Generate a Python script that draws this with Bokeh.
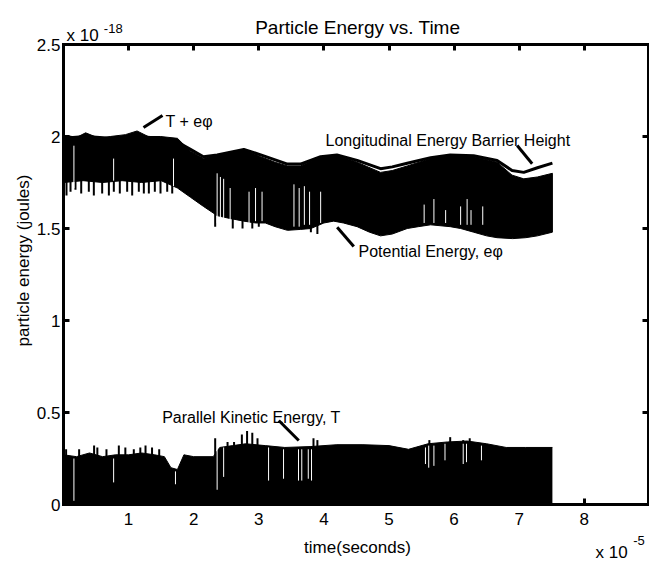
import math
from bokeh.plotting import figure
from bokeh.models import Range1d, FixedTicker, LinearAxis, Label
from bokeh.embed import file_html
from bokeh.resources import INLINE

# ---- data (time in units of 1e-5 s, energy in units of 1e-18 J) ----
# upper edge of the total energy band (T + e*phi)
t_total_top = [0.0, 0.06, 0.20, 0.34, 0.55, 0.72, 0.95, 1.13, 1.30, 1.49, 1.75, 1.95,
               2.15, 2.36, 2.55, 2.77, 3.03, 3.25, 3.44, 3.64, 3.95, 4.20, 4.51,
               4.87, 5.05, 5.28, 5.64, 5.94, 6.30, 6.66, 6.89, 7.07, 7.28, 7.51]
e_total_top = [1.99, 2.005, 1.995, 2.02, 1.99, 2.00, 2.01, 2.03, 2.00, 2.00, 1.99, 1.92,
               1.88, 1.90, 1.91, 1.93, 1.89, 1.86, 1.84, 1.84, 1.89, 1.90, 1.86,
               1.805, 1.815, 1.84, 1.88, 1.90, 1.89, 1.86, 1.79, 1.77, 1.78, 1.80]

# main lower edge of the potential energy band (e*phi)
t_pot_low = [0.0, 0.3, 0.6, 0.9, 1.2, 1.5, 1.75, 1.95, 2.15, 2.36, 2.55, 2.77,
             2.95, 3.10, 3.25, 3.44, 3.64, 3.80, 4.00, 4.15, 4.30, 4.51, 4.70,
             4.87, 5.05, 5.28, 5.45, 5.64, 5.94, 6.10, 6.30, 6.50, 6.66, 6.90,
             7.10, 7.28, 7.51]
e_pot_low = [1.75, 1.76, 1.75, 1.76, 1.75, 1.76, 1.72, 1.67, 1.62, 1.57, 1.555, 1.54,
             1.53, 1.53, 1.51, 1.49, 1.495, 1.50, 1.53, 1.54, 1.53, 1.51, 1.48,
             1.46, 1.47, 1.50, 1.51, 1.52, 1.51, 1.50, 1.48, 1.46, 1.45, 1.445,
             1.45, 1.46, 1.48]

# downward spikes below the potential band: time, spike tip, spike root
t_pot_spike = [0.046, 0.108, 0.184, 0.272, 0.389, 0.466, 0.594, 0.697, 0.773, 0.865,
               0.978, 1.055, 1.157, 1.234, 1.311, 1.403, 1.49, 1.593, 1.67,
               2.33, 2.60, 2.75, 2.90, 3.00, 3.80, 3.90]
e_pot_spike_tip = [1.68, 1.70, 1.71, 1.69, 1.70, 1.68, 1.69, 1.68, 1.70, 1.69,
                   1.70, 1.68, 1.70, 1.69, 1.69, 1.70, 1.69, 1.70, 1.69,
                   1.51, 1.50, 1.50, 1.50, 1.51, 1.48, 1.47]
e_pot_spike_root = [1.80, 1.80, 1.80, 1.80, 1.80, 1.80, 1.80, 1.80, 1.80, 1.80,
                    1.80, 1.80, 1.80, 1.80, 1.80, 1.80, 1.80, 1.80, 1.80,
                    1.62, 1.60, 1.60, 1.60, 1.60, 1.56, 1.56]

# white gaps inside the upper band: time, gap bottom, gap top
t_pot_gap = [0.16, 0.77, 1.69, 2.36, 2.41, 2.46, 2.56, 2.85, 2.95, 3.05,
             3.54, 3.62, 3.70, 3.78, 3.95, 5.54, 5.69, 5.87, 6.10, 6.20, 6.26, 6.44]
e_pot_gap_low = [1.72, 1.76, 1.73, 1.53, 1.54, 1.55, 1.55, 1.53, 1.54, 1.54,
                 1.51, 1.51, 1.52, 1.52, 1.53, 1.53, 1.53, 1.53, 1.52, 1.52, 1.52, 1.52]
e_pot_gap_high = [1.95, 1.88, 1.88, 1.80, 1.78, 1.77, 1.72, 1.70, 1.72, 1.70,
                  1.74, 1.72, 1.73, 1.70, 1.70, 1.63, 1.66, 1.60, 1.62, 1.66, 1.60, 1.62]

# longitudinal energy barrier height
t_barrier = [0.0, 0.34, 0.72, 1.13, 1.49, 1.75, 1.95, 2.15, 2.36, 2.77, 3.03,
             3.44, 3.64, 3.95, 4.20, 4.51, 4.87, 5.05, 5.28, 5.64, 5.94, 6.30,
             6.66, 6.89, 7.07, 7.28, 7.51]
e_barrier = [1.99, 2.00, 1.99, 2.00, 1.99, 1.97, 1.93, 1.89, 1.90, 1.93, 1.90,
             1.85, 1.85, 1.89, 1.90, 1.87, 1.825, 1.835, 1.855, 1.885, 1.90, 1.895,
             1.87, 1.815, 1.805, 1.83, 1.855]

# main upper edge of the parallel kinetic energy band (T)
t_kin = [0.0, 0.2, 0.4, 0.6, 0.8, 1.0, 1.2, 1.4, 1.55, 1.65, 1.75, 1.85, 2.0,
         2.3, 2.4, 2.6, 2.8, 3.1, 3.4, 3.8, 4.2, 4.6, 5.0, 5.3, 5.6, 5.9,
         6.2, 6.5, 6.8, 7.1, 7.51]
e_kin = [0.27, 0.26, 0.28, 0.26, 0.27, 0.27, 0.28, 0.27, 0.26, 0.20, 0.19, 0.27, 0.26,
         0.26, 0.31, 0.32, 0.33, 0.32, 0.31, 0.315, 0.325, 0.325, 0.32, 0.30, 0.33, 0.34,
         0.345, 0.33, 0.31, 0.31, 0.31]

# upward spikes of the kinetic band: time, spike tip
t_kin_spike = [0.04, 0.24, 0.47, 0.52, 0.66, 0.85, 0.95, 1.08, 1.18, 1.26, 1.36,
               1.47, 2.33, 2.52, 2.62, 2.74, 2.82, 2.90, 2.98, 3.84, 3.90,
               5.62, 5.94, 6.14, 6.24]
e_kin_spike = [0.30, 0.30, 0.32, 0.31, 0.30, 0.32, 0.31, 0.30, 0.31, 0.32, 0.31,
               0.30, 0.36, 0.34, 0.34, 0.38, 0.40, 0.39, 0.36, 0.36, 0.35,
               0.35, 0.366, 0.35, 0.36]

# white gaps inside the kinetic band: time, gap bottom, gap top
t_kin_gap = [0.16, 0.77, 1.72, 2.36, 2.46, 3.15, 3.38, 3.61, 3.66, 3.76, 3.81,
             5.56, 5.61, 5.69, 5.86, 6.14, 6.19, 6.42]
e_kin_gap_low = [0.02, 0.12, 0.11, 0.08, 0.15, 0.13, 0.14, 0.13, 0.13, 0.14, 0.13,
                 0.22, 0.20, 0.21, 0.24, 0.22, 0.23, 0.24]
e_kin_gap_high = [0.25, 0.25, 0.18, 0.30, 0.31, 0.31, 0.30, 0.30, 0.30, 0.30, 0.30,
                  0.31, 0.32, 0.32, 0.33, 0.33, 0.33, 0.32]

x_ticks = [1, 2, 3, 4, 5, 6, 7, 8]
y_ticks = [0, 0.5, 1, 1.5, 2, 2.5]
y_tick_labels = {0: "0", 0.5: "0.5", 1: "1", 1.5: "1.5", 2: "2", 2.5: "2.5"}
x_limit = 8.98
y_limit = 2.5

# ---- layout (pixels) ----
W, H = 649, 563
BOX_LEFT, BOX_TOP, BOX_BOTTOM = 63, 44, 504
PX_PER_X = 65.1
PX_PER_Y = (BOX_BOTTOM - BOX_TOP) / y_limit
FONT = "Liberation Sans"

x_start = -BOX_LEFT / PX_PER_X
x_end = (W - BOX_LEFT) / PX_PER_X
y_end = y_limit + BOX_TOP / PX_PER_Y
y_start = -(H - BOX_BOTTOM) / PX_PER_Y

p = figure(width=W, height=H, output_backend="svg", toolbar_location=None,
           x_range=Range1d(x_start, x_end), y_range=Range1d(y_start, y_end),
           min_border_left=0, min_border_right=0, min_border_top=0,
           min_border_bottom=0, background_fill_color="white",
           border_fill_color="white")
p.grid.visible = False
p.outline_line_color = None

# bands
p.patch(t_total_top + t_pot_low[::-1], e_total_top + e_pot_low[::-1],
        fill_color="black", line_color="black", line_width=1)
p.segment(t_pot_spike, e_pot_spike_tip, t_pot_spike, e_pot_spike_root,
          line_color="black", line_width=2)
p.segment(t_pot_gap, e_pot_gap_low, t_pot_gap, e_pot_gap_high,
          line_color="white", line_width=1)
p.varea(x=t_kin, y1=[0] * len(t_kin), y2=e_kin, fill_color="black")
p.line(t_kin, e_kin, line_color="black", line_width=1)
p.segment(t_kin_spike, [0.2] * len(t_kin_spike), t_kin_spike, e_kin_spike,
          line_color="black", line_width=2)
p.segment(t_kin_gap, e_kin_gap_low, t_kin_gap, e_kin_gap_high,
          line_color="white", line_width=1)
p.line(t_barrier, e_barrier, line_color="black", line_width=3)

def style_axis(ax, show_labels):
    ax.axis_line_width = 3
    ax.axis_line_color = "black"
    ax.axis_line_cap = "square"
    ax.major_tick_line_width = 3
    ax.major_tick_line_color = "black"
    ax.major_tick_in = 6
    ax.major_tick_out = 0
    ax.minor_tick_line_color = None
    ax.major_label_text_font = FONT
    ax.major_label_text_font_size = "17px" if show_labels else "0px"
    ax.major_label_text_color = "black"

xa = p.xaxis[0]
xa.fixed_location = 0
xa.bounds = (0, x_limit)
xa.ticker = FixedTicker(ticks=x_ticks)
style_axis(xa, True)
xa.major_label_standoff = 8

ya = p.yaxis[0]
ya.fixed_location = 0
ya.bounds = (0, y_limit)
ya.ticker = FixedTicker(ticks=y_ticks)
ya.major_label_overrides = y_tick_labels
style_axis(ya, True)
ya.major_label_standoff = 3

top_ax = LinearAxis(ticker=FixedTicker(ticks=x_ticks), fixed_location=y_limit,
                    bounds=(0, x_limit), major_label_standoff=0)
style_axis(top_ax, False)
top_ax.major_label_overrides = {k: "" for k in x_ticks}
p.add_layout(top_ax, "above")
right_ax = LinearAxis(ticker=FixedTicker(ticks=y_ticks), fixed_location=x_limit,
                      bounds=(0, y_limit), major_label_standoff=0)
style_axis(right_ax, False)
right_ax.major_label_overrides = {k: "" for k in y_ticks}
p.add_layout(right_ax, "right")

def add_text(x, y, text, size, align="left", baseline="alphabetic", angle=0.0):
    p.add_layout(Label(x=x, y=y, text=text, text_font=FONT, text_font_size=size,
                       text_color="black", text_align=align, text_baseline=baseline,
                       angle=angle))

# title, axis titles and exponent labels
add_text(4.52, 2.594, "Particle Energy vs. Time", "19px", align="center")
add_text(4.516, -0.234, "time(seconds)", "17px", align="center")
add_text(-0.607, 1.326, "particle energy (joules)", "17px", align="center",
         baseline="middle", angle=math.pi / 2)
add_text(0.046, 2.549, "x 10", "17px")
add_text(0.62, 2.587, "-18", "13px")
add_text(8.172, -0.262, "x 10", "17px")
add_text(8.75, -0.198, "-5", "13px")

# annotations with leader lines
leaders_x0 = [1.229, 6.969, 4.204, 3.307]
leaders_y0 = [2.049, 1.951, 1.507, 0.4565]
leaders_x1 = [1.521, 7.199, 4.459, 3.614]
leaders_y1 = [2.114, 1.852, 1.402, 0.348]
p.segment(leaders_x0, leaders_y0, leaders_x1, leaders_y1, line_color="black", line_width=3)

add_text(1.567, 2.08, "T + eφ", "16px")
add_text(4.025, 1.978, "Longitudinal Energy Barrier Height", "16px")
add_text(4.531, 1.375, "Potential Energy, eφ", "16px")
add_text(1.516, 0.471, "Parallel Kinetic Energy, T", "16px")

open("out.html", "w").write(file_html(p, INLINE))
